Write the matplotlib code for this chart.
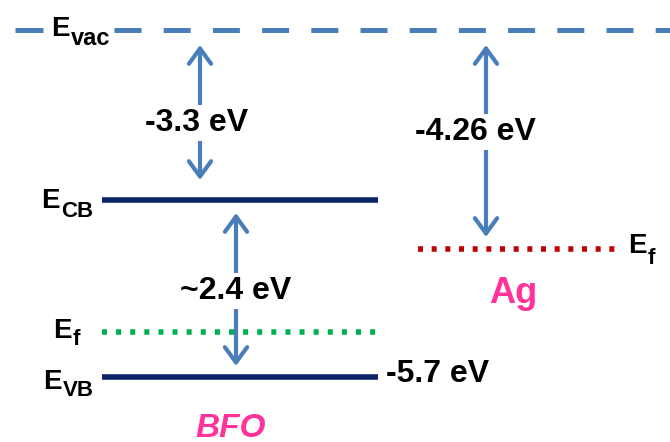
import numpy as np
import matplotlib.pyplot as plt

plt.rcParams['font.family'] = 'Liberation Sans'
plt.rcParams['font.weight'] = 'bold'

# energy levels in eV, vacuum level at 0
e_vac = 0.0
e_cb = -3.3
e_vb = -5.7
e_f_bfo = -5.2
e_f_ag = -4.26

# labels written next to the arrows / levels
gap_labels = ['-3.3 eV', '-4.26 eV', '~2.4 eV']
vb_label = '-5.7 eV'
materials = ['BFO', 'Ag']

blue = '#4a7ebb'
navy = '#0b2465'
green = '#00b050'
red = '#c00000'
pink = '#ff3399'

# the sketch is not to scale: each interval between levels gets its own stretch
# (knots: energy -> pixel row from the top of the page)
scale_e = [-6.43, e_vb, e_f_ag, e_cb, e_vac, 0.58]
scale_px = [442, 377, 248.5, 200, 30, 0]


def fwd(e):
    return -np.interp(e, scale_e, scale_px)


def inv(y):
    return np.interp(-np.asarray(y), scale_px[::-1], scale_e[::-1])


def row(p):
    # energy that lands on pixel row p
    return float(inv(-p))


def level_name(ax, x, base, sub, drop, sub_size=16, **kw):
    # "E" with a bold subscript placed right after it
    ax.text(x, row(base), 'E', fontsize=20, ha='left', va='baseline', **kw)
    ax.text(x + 20, row(base + drop), sub, fontsize=sub_size, ha='left',
            va='baseline', **kw)


fig = plt.figure(figsize=(6.7, 4.42), dpi=100)
ax = fig.add_axes([0, 0, 1, 1])
ax.set_xlim(0, 670)
ax.set_yscale('function', functions=(fwd, inv))
ax.set_ylim(scale_e[0], scale_e[-1])
ax.axis('off')

# vacuum level, broken where its name sits
ax.plot([15, 43], [e_vac, e_vac], color=blue, lw=3.6, solid_capstyle='butt')
ax.plot([114, 670], [e_vac, e_vac], color=blue, lw=3.6,
        linestyle=(0, (5.4, 4.44)), dash_capstyle='butt')

# BFO bands
ax.plot([102, 378], [e_cb, e_cb], color=navy, lw=4, solid_capstyle='butt')
ax.plot([102, 378], [e_vb, e_vb], color=navy, lw=4, solid_capstyle='butt')
ax.plot([102, 378], [e_f_bfo, e_f_bfo], color=green, lw=4,
        linestyle=(0, (0.9, 1.64)), dash_capstyle='butt', zorder=1)

# Ag fermi level
ax.plot([418, 622], [e_f_ag, e_f_ag], color=red, lw=4,
        linestyle=(0, (0.9, 1.56)), dash_capstyle='butt')

# double arrows between levels: (x, upper, lower, shrink top px, shrink bottom px)
arrows = [
    (200, e_vac, e_cb, 15, 20),
    (486, e_vac, e_f_ag, 15, 11.5),
    (236, e_cb, e_vb, 13, 11),
]
for x, top, bot, s_top, s_bot in arrows:
    ax.annotate('', xy=(x, bot), xytext=(x, top),
                arrowprops=dict(arrowstyle='<->,head_length=0.55,head_width=0.4',
                                color=blue, lw=3, mutation_scale=20,
                                shrinkA=s_top * 0.72, shrinkB=s_bot * 0.72),
                zorder=2)

box = dict(boxstyle='square,pad=0.1', fc='white', ec='none')
ax.text(197, row(131), gap_labels[0], fontsize=23, ha='center', va='baseline',
        bbox=box, zorder=3)
ax.text(475, row(140), gap_labels[1], fontsize=23, ha='center', va='baseline',
        bbox=box, zorder=3)
ax.text(236, row(299), gap_labels[2], fontsize=23, ha='center', va='baseline',
        bbox=box, zorder=3)
ax.text(386, row(382), vb_label, fontsize=23, ha='left', va='baseline')

# level names
level_name(ax, 51, 36, 'vac', 9, sub_size=17)
level_name(ax, 41, 208, 'CB', 9)
level_name(ax, 53, 338, 'f', 7)
level_name(ax, 43, 389, 'VB', 7)
level_name(ax, 628, 253, 'f', 11)

# material names
ax.text(195, row(437), materials[0], fontsize=24, style='italic', color=pink,
        ha='left', va='baseline')
ax.text(489, row(303), materials[1], fontsize=26, color=pink,
        ha='left', va='baseline')

fig.savefig('out.png', dpi=100)
